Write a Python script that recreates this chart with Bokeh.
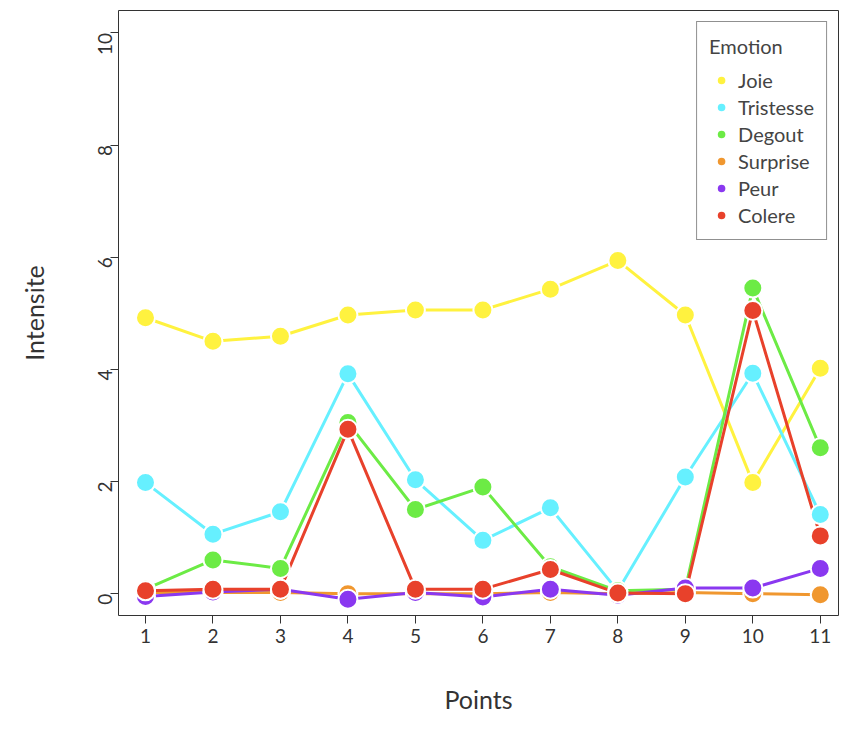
import math
from bokeh.plotting import figure
from bokeh.models import Range1d, FixedTicker, Legend, LegendItem
from bokeh.embed import file_html
from bokeh.resources import INLINE

points = list(range(1, 12))
names = ["Joie", "Tristesse", "Degout", "Surprise", "Peur", "Colere"]
joie = [4.92, 4.50, 4.59, 4.97, 5.06, 5.06, 5.43, 5.94, 4.97, 1.98, 4.02]
tristesse = [1.98, 1.06, 1.46, 3.92, 2.03, 0.95, 1.53, 0.05, 2.08, 3.93, 1.41]
degout = [0.08, 0.60, 0.45, 3.05, 1.50, 1.90, 0.48, 0.05, 0.08, 5.45, 2.60]
surprise = [0.02, 0.02, 0.02, 0.0, 0.0, 0.0, 0.02, 0.0, 0.02, 0.0, -0.02]
peur = [-0.05, 0.03, 0.08, -0.10, 0.02, -0.06, 0.08, -0.03, 0.10, 0.10, 0.45]
colere = [0.05, 0.08, 0.08, 2.93, 0.08, 0.08, 0.43, 0.01, 0.0, 5.05, 1.03]
series = [joie, tristesse, degout, surprise, peur, colere]
colors = ["#FFF23F", "#66F0FF", "#6CEB45", "#F0972F", "#8A38F0", "#E8412B"]

F = "Lato"
p = figure(width=846, height=716, output_backend="svg", toolbar_location=None,
           x_range=Range1d(0.6, 11.27), y_range=Range1d(-0.39, 10.4),
           min_border_left=118, min_border_right=8, min_border_top=10, min_border_bottom=94)
p.grid.visible = False
p.outline_line_color = "#333333"
p.xaxis.ticker = FixedTicker(ticks=points)
p.yaxis.ticker = FixedTicker(ticks=[0, 2, 4, 6, 8, 10])
p.yaxis.major_label_orientation = math.pi / 2
for ax in (p.xaxis, p.yaxis):
    ax.axis_line_color = None
    ax.major_tick_line_color = "#333333"
    ax.major_tick_out = 8
    ax.major_tick_in = 0
    ax.minor_tick_line_color = None
    ax.major_label_text_font = F
    ax.major_label_text_font_size = "19px"
    ax.major_label_text_color = "#333333"
    ax.axis_label_text_font = F
    ax.axis_label_text_font_size = "25px"
    ax.axis_label_text_font_style = "normal"
    ax.axis_label_text_color = "#333333"
p.xaxis.axis_label = "Points"
p.yaxis.axis_label = "Intensite"
p.xaxis.axis_label_standoff = 38
p.yaxis.axis_label_standoff = 40

items = []
for name, vals, c in zip(names, series, colors):
    p.line(points, vals, line_color=c, line_width=3)
for name, vals, c in zip(names, series, colors):
    r = p.scatter(points, vals, size=19, fill_color=c, line_color="white", line_width=2)
    items.append(LegendItem(label=name, renderers=[r]))

leg = Legend(items=items, location="top_right", title="Emotion",
             label_text_font=F, label_text_font_size="20px", title_text_font=F,
             title_text_font_size="20px", title_text_font_style="normal",
             border_line_color="#222222", border_line_width=1.5, glyph_width=24,
             glyph_height=24, label_height=24, spacing=3, padding=12, margin=11,
             title_standoff=10)
p.add_layout(leg)

open("out.html", "w").write(file_html(p, INLINE))
